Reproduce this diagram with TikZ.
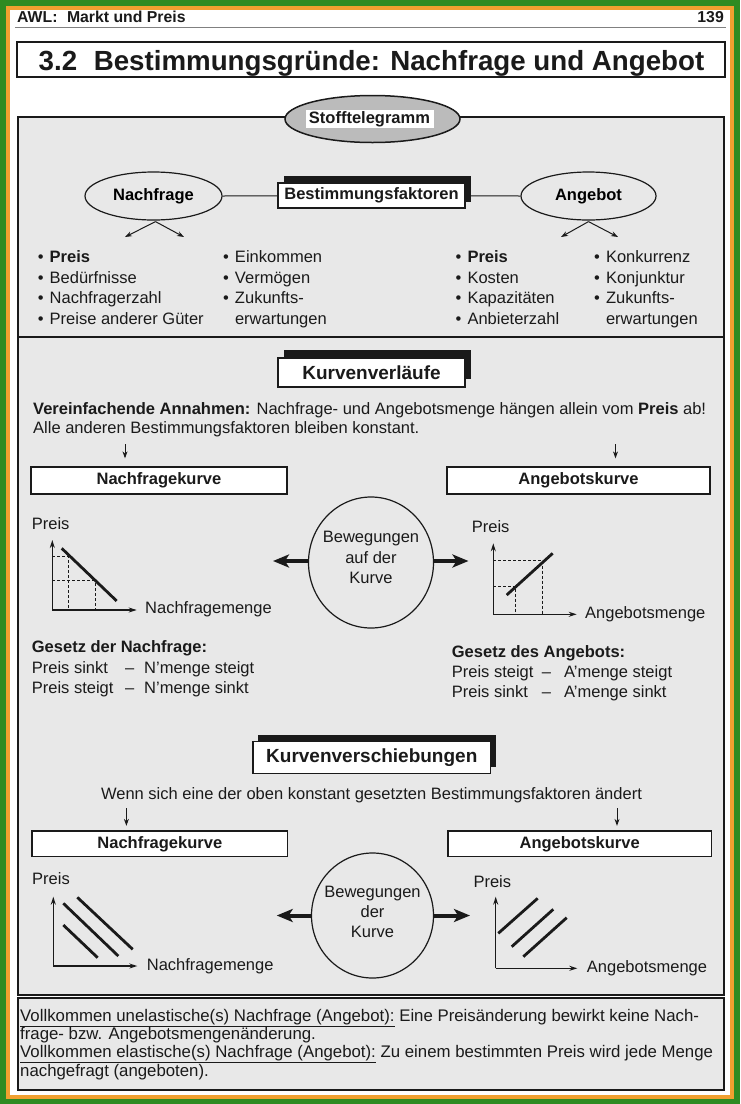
\documentclass[tikz,border=0pt]{standalone}
\usepackage{fontspec}
\setmainfont{Liberation Sans}
\usetikzlibrary{arrows.meta,shapes.geometric,calc}
\definecolor{bggray}{HTML}{E8E8E8}
\definecolor{ellgray}{HTML}{BBBBBB}
\definecolor{framegreen}{HTML}{2E8B22}
\definecolor{frameorange}{HTML}{F0A030}
\definecolor{ink}{HTML}{1A1A1A}
\newcommand\bul{\makebox[11.8pt][l]{•}}
\newcommand\myul[1]{\underline{#1}}
\begin{document}
\begin{tikzpicture}[x=1pt,y=-1pt,
  txt/.style={font=\fontsize{16.5}{20.5}\selectfont, inner sep=0pt, text=ink},
  btxt/.style={txt, font=\fontsize{16.5}{20.5}\selectfont\bfseries},
  lbl/.style={txt, anchor=base west},
  foot/.style={lbl, font=\fontsize{16.8}{20}\selectfont},
  whitebox/.style={draw=ink, fill=white, line width=1.3pt, inner sep=0pt, font=\fontsize{16.5}{20.5}\selectfont\bfseries, text=ink},
  headbox/.style={draw=ink, fill=white, line width=1.3pt, inner sep=0pt, font=\fontsize{19}{23}\selectfont\bfseries, text=ink},
  oval/.style={ellipse, draw=ink, line width=1.2pt, inner sep=0pt},
  axis/.style={line width=1.2pt, draw=ink, -{Stealth[length=8pt,width=5pt]}},
  curve/.style={line width=2.8pt, draw=ink},
  dashl/.style={line width=0.9pt, draw=ink, dashed, dash pattern=on 3pt off 2pt},
  smallarr/.style={line width=0.9pt, draw=ink, -{Stealth[length=7pt,width=5pt]}},
  fatarr/.style={line width=4pt, draw=ink, -{Stealth[length=16pt,width=13pt,inset=4pt]}},
  splitarr/.style={line width=1pt, draw=ink, -{Stealth[length=7pt,width=5pt]}},
  shadowbox/.style={fill=ink}
]
\useasboundingbox (0,0) rectangle (740,1104);
% frame
\fill[framegreen] (0,0) rectangle (740,1104);
\fill[frameorange] (6,6) rectangle (734,1099);
\fill[white] (10,10) rectangle (730,1095);

% header
\node[anchor=base west, inner sep=0pt, font=\fontsize{15.8}{18}\selectfont\bfseries, text=ink] (hdl) at (17,22.5) {AWL:\hspace{0.6em}Markt und Preis};
\node[anchor=base east, inner sep=0pt, font=\fontsize{15.8}{18}\selectfont\bfseries, text=ink] (hdr) at (724,22.5) {139};
\draw[line width=0.9pt, draw=gray] (15,27) -- (726,27);

% title
\draw[line width=1.5pt, draw=ink] (17,42) rectangle (725,77);
\node[anchor=base, inner sep=0pt, font=\fontsize{27.7}{32}\selectfont\bfseries, text=ink] (title) at (371.5,70) {3.2\hspace{0.6em}Bestimmungsgründe: Nachfrage und Angebot};

% main boxes
\draw[line width=2pt, draw=ink, fill=bggray] (18,117) rectangle (724,995);
\draw[line width=2pt, draw=ink] (18,337) -- (724,337);
\draw[line width=2pt, draw=ink, fill=bggray] (18,998) rectangle (724,1090);

% Stofftelegramm
\node[oval, fill=ellgray, line width=1.5pt, minimum width=175, minimum height=47] (st) at (372.5,119) {};
\node[fill=white, inner sep=0pt, minimum width=128, minimum height=18.5, font=\fontsize{16.5}{20}\selectfont\bfseries, text=ink] (stt) at (369.5,119.2) {Stofftelegramm};

% Bestimmungsfaktoren row
\node[oval, minimum width=137, minimum height=48] (nf) at (153.5,196) {\fontsize{16.5}{20}\selectfont\bfseries Nachfrage};
\node[oval, minimum width=135, minimum height=48] (ag) at (588.5,196) {\fontsize{16.5}{20}\selectfont\bfseries Angebot};
\coordinate (bfc) at (371.5,195.5);
\draw[line width=1pt, draw=ink] (nf.east) -- (bfc) -- (ag.west);
\fill[shadowbox] (284,176) rectangle (471,202);
\node[whitebox, minimum width=187, minimum height=25] (bf) at (bfc) {Bestimmungsfaktoren};

% split arrows
\coordinate (nfa1) at (125,237); \coordinate (nfa2) at (184,237);
\coordinate (aga1) at (561,237); \coordinate (aga2) at (618,237);
\draw[splitarr] ($(nf.south)+(2,1)$) -- (nfa1);
\draw[splitarr] ($(nf.south)+(2,1)$) -- (nfa2);
\draw[splitarr] ($(ag.south)+(0,1)$) -- (aga1);
\draw[splitarr] ($(ag.south)+(0,1)$) -- (aga2);

% bullet lists
\node[lbl] (a1) at (37.7,262.5) {\bul\textbf{Preis}};
\node[lbl] (a2) at (37.7,283) {\bul Bedürfnisse};
\node[lbl] (a3) at (37.7,303.5) {\bul Nachfragerzahl};
\node[lbl] (a4) at (37.7,324) {\bul Preise anderer Güter};
\node[lbl] (b1) at (223,262.5) {\bul Einkommen};
\node[lbl] (b2) at (223,283) {\bul Vermögen};
\node[lbl] (b3) at (223,303.5) {\bul Zukunfts-};
\node[lbl] (b4) at (223,324) {\hspace{11.8pt}erwartungen};
\node[lbl] (c1) at (455.5,262.5) {\bul\textbf{Preis}};
\node[lbl] (c2) at (455.5,283) {\bul Kosten};
\node[lbl] (c3) at (455.5,303.5) {\bul Kapazitäten};
\node[lbl] (c4) at (455.5,324) {\bul Anbieterzahl};
\node[lbl] (d1) at (594,262.5) {\bul Konkurrenz};
\node[lbl] (d2) at (594,283) {\bul Konjunktur};
\node[lbl] (d3) at (594,303.5) {\bul Zukunfts-};
\node[lbl] (d4) at (594,324) {\hspace{11.8pt}erwartungen};

% Kurvenverlaeufe
\fill[shadowbox] (284,350) rectangle (471,379);
\node[headbox, minimum width=187, minimum height=29] (kv) at (371.5,372.5) {Kurvenverläufe};
\node[lbl] (va1) at (33,414.5) {\textbf{Vereinfachende Annahmen:} Nachfrage- und Angebotsmenge hängen allein vom \textbf{Preis} ab!};
\node[lbl] (va2) at (33,433.5) {Alle anderen Bestimmungsfaktoren bleiben konstant.};
\node[whitebox, minimum width=256, minimum height=27] (nk1) at (159,480.5) {Nachfragekurve};
\node[whitebox, minimum width=263, minimum height=27] (ak1) at (578.5,480.5) {Angebotskurve};
\coordinate (sa1) at (125,444); \coordinate (sa2) at (615.5,444);
\draw[smallarr] (sa1) -- ($(nk1.north -| sa1)+(0,-8)$);
\draw[smallarr] (sa2) -- ($(ak1.north -| sa2)+(0,-8)$);

% graph 1 (demand)
\node[txt, anchor=base west] (p1) at (31.7,529.5) {Preis};
\coordinate (o1) at (52.3,610);
\draw[axis] (o1) -- (52.3,540);
\draw[axis] (o1) -- (136.7,610);
\draw[dashl] (52.3,556) -- (68.3,556) -- (68.3,610);
\draw[dashl] (52.3,580.7) -- (95,580.7) -- (95,610);
\draw[curve] (61.7,548.3) -- (116.7,601);
\node[txt, anchor=base west] (q1) at (145,613.5) {Nachfragemenge};

% circle 1
\node[oval, minimum width=125, minimum height=131] (cir1) at (371,562.5) {};
\node[txt, anchor=base] (cir1a) at (371,542.5) {Bewegungen};
\node[txt, anchor=base] (cir1b) at (371,563) {auf der};
\node[txt, anchor=base] (cir1c) at (371,583.5) {Kurve};
\coordinate (fl1) at (273,561); \coordinate (fr1) at (468.5,561);
\draw[fatarr] (cir1.west |- fl1) -- (fl1);
\draw[fatarr] (cir1.east |- fr1) -- (fr1);

% graph 2 (supply)
\node[txt, anchor=base west] (p2) at (471.7,532.8) {Preis};
\coordinate (o2) at (493.3,614.3);
\draw[axis] (o2) -- (493.3,543.3);
\draw[axis] (o2) -- (576.7,614.3);
\draw[dashl] (493.3,560) -- (542.7,560) -- (542.7,614.3);
\draw[dashl] (493.3,586) -- (515.7,586) -- (515.7,614.3);
\draw[curve] (506.7,595) -- (552.7,553.3);
\node[txt, anchor=base west] (q2) at (585,618.8) {Angebotsmenge};

% laws
\node[btxt, anchor=base west] (gn) at (31.7,652.2) {Gesetz der Nachfrage:};
\node[lbl] (gn1a) at (31.7,673.8) {Preis sinkt};
\node[lbl] (gn1b) at (125,673.8) {–};
\node[lbl] (gn1c) at (144,673.8) {N’menge steigt};
\node[lbl] (gn2a) at (31.7,693.8) {Preis steigt};
\node[lbl] (gn2b) at (125,693.8) {–};
\node[lbl] (gn2c) at (144,693.8) {N’menge sinkt};
\node[btxt, anchor=base west] (ga) at (451.7,657.2) {Gesetz des Angebots:};
\node[lbl] (ga1a) at (451.7,677.2) {Preis steigt};
\node[lbl] (ga1b) at (541.7,677.2) {–};
\node[lbl] (ga1c) at (564,677.2) {A’menge steigt};
\node[lbl] (ga2a) at (451.7,697.2) {Preis sinkt};
\node[lbl] (ga2b) at (541.7,697.2) {–};
\node[lbl] (ga2c) at (564,697.2) {A’menge sinkt};

% Kurvenverschiebungen
\fill[shadowbox] (258,735) rectangle (496,766.7);
\node[headbox, minimum width=237.6, minimum height=31.6] (ks) at (371.8,757.5) {Kurvenverschiebungen};
\node[txt, anchor=base] (wenn) at (371.5,799.5) {Wenn sich eine der oben konstant gesetzten Bestimmungsfaktoren ändert};
\node[whitebox, minimum width=255.7, minimum height=25.7] (nk2) at (159.85,843.85) {Nachfragekurve};
\node[whitebox, minimum width=263.3, minimum height=25.7] (ak2) at (579.65,843.85) {Angebotskurve};
\coordinate (sa3) at (126.4,808); \coordinate (sa4) at (617,808);
\draw[smallarr] (sa3) -- ($(nk2.north -| sa3)+(0,-4.5)$);
\draw[smallarr] (sa4) -- ($(ak2.north -| sa4)+(0,-4.5)$);

% graph 3
\node[txt, anchor=base west] (p3) at (32,884.5) {Preis};
\coordinate (o3) at (53.3,966);
\draw[axis] (o3) -- (53.3,896.7);
\draw[axis] (o3) -- (137.3,966);
\draw[curve] (63.3,925) -- (97.7,957.7);
\draw[curve] (63.3,903.3) -- (118.3,956);
\draw[curve] (77.3,897.3) -- (132.7,949.3);
\node[txt, anchor=base west] (q3) at (146.7,970.5) {Nachfragemenge};

% circle 2
\node[oval, minimum width=122, minimum height=125] (cir2) at (372.5,915.5) {};
\node[txt, anchor=base] (cir2a) at (372.5,897.2) {Bewegungen};
\node[txt, anchor=base] (cir2b) at (372.5,917.2) {der};
\node[txt, anchor=base] (cir2c) at (372.5,937.2) {Kurve};
\coordinate (fl2) at (276.7,915.5); \coordinate (fr2) at (470,915.5);
\draw[fatarr] (cir2.west |- fl2) -- (fl2);
\draw[fatarr] (cir2.east |- fr2) -- (fr2);

% graph 4
\node[txt, anchor=base west] (p4) at (473.3,887.8) {Preis};
\coordinate (o4) at (495.7,968.3);
\draw[axis] (o4) -- (495.7,896.7);
\draw[axis] (o4) -- (577.3,968.3);
\draw[curve] (498.3,933.3) -- (537.7,898.3);
\draw[curve] (511.7,946.7) -- (553.3,909.3);
\draw[curve] (523.3,956.7) -- (566.7,917.7);
\node[txt, anchor=base west] (q4) at (586.7,972.8) {Angebotsmenge};

% bottom text
\node[foot] (e1) at (20,1021) {\myul{Vollkommen unelastische(s) Nachfrage (Angebot):} Eine Preisänderung bewirkt keine Nach-};
\node[foot] (e2) at (20,1039.3) {frage- bzw. Angebotsmengenänderung.};
\node[foot] (e3) at (20,1057.7) {\myul{Vollkommen elastische(s) Nachfrage (Angebot):} Zu einem bestimmten Preis wird jede Menge};
\node[foot] (e4) at (20,1076) {nachgefragt (angeboten).};
\end{tikzpicture}
\end{document}
